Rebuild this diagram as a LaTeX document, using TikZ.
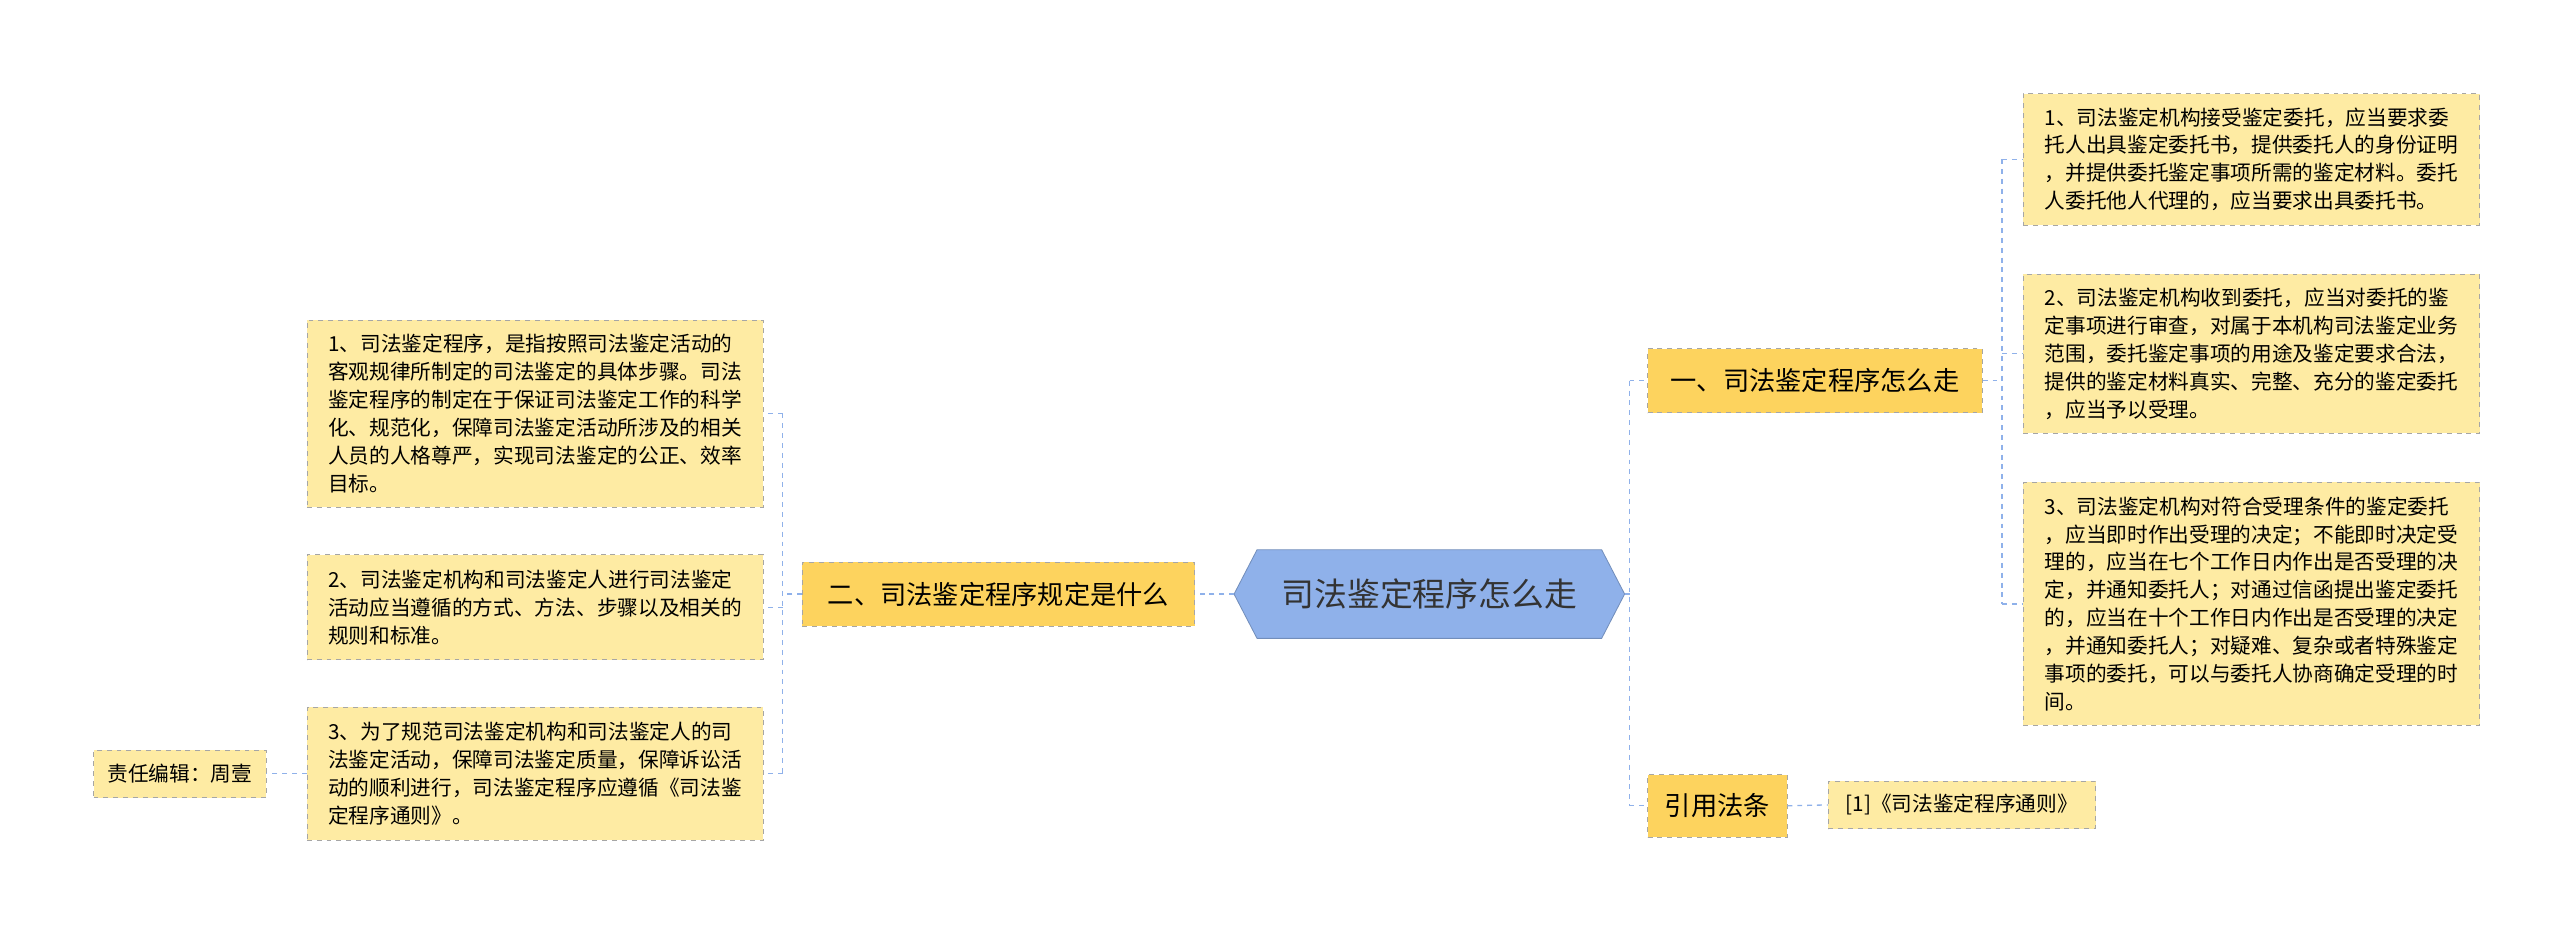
\documentclass[tikz,border=0pt]{standalone}
\usepackage{fontspec}
\setmainfont{Noto Sans CJK SC}
\begin{document}
\begin{tikzpicture}[x=1pt,y=-1pt,
 lvl/.style={draw=black!35,dashed,fill=lv,inner sep=0pt,font=\fontsize{16}{20}\selectfont},
 leaf/.style={draw=black!35,dashed,fill=lf,inner sep=0pt,align=left,font=\fontsize{12.6}{17}\selectfont},
 con/.style={draw=ln,dashed,line width=0.8pt}]
\definecolor{lv}{HTML}{FDD35E}
\definecolor{lf}{HTML}{FEEBA3}
\definecolor{hx}{HTML}{8FB1EA}
\definecolor{ln}{HTML}{8FB1EA}
\useasboundingbox[fill=white] (0,0) rectangle (1560,566);
\fill[hx,draw=hx!80!black,line width=0.5pt] (752,362)--(766,335)--(976,335)--(990,362)--(976,389)--(766,389)--cycle;
\node[font=\fontsize{20}{24}\selectfont,text=black!80] (c) at (871,362) {司法鉴定程序怎么走};
\coordinate (cr) at (990,362); \coordinate (cl) at (752,362);
\node[lvl,minimum width=204,minimum height=39] (n1) at (1106,232) {一、司法鉴定程序怎么走};
\node[lvl,minimum width=85,minimum height=38] (n2) at (1046.5,491) {引用法条};
\node[lvl,minimum width=239,minimum height=39] (n3) at (608.5,362) {二、司法鉴定程序规定是什么};
\node[leaf,minimum width=278,minimum height=80] (r1) at (1372,97) {1、司法鉴定机构接受鉴定委托，应当要求委\\托人出具鉴定委托书，提供委托人的身份证明\\，并提供委托鉴定事项所需的鉴定材料。委托\\人委托他人代理的，应当要求出具委托书。};
\node[leaf,minimum width=278,minimum height=97] (r2) at (1372,215.5) {2、司法鉴定机构收到委托，应当对委托的鉴\\定事项进行审查，对属于本机构司法鉴定业务\\范围，委托鉴定事项的用途及鉴定要求合法，\\提供的鉴定材料真实、完整、充分的鉴定委托\\，应当予以受理。};
\node[leaf,minimum width=278,minimum height=148] (r3) at (1372,368) {3、司法鉴定机构对符合受理条件的鉴定委托\\，应当即时作出受理的决定；不能即时决定受\\理的，应当在七个工作日内作出是否受理的决\\定，并通知委托人；对通过信函提出鉴定委托\\的，应当在十个工作日内作出是否受理的决定\\，并通知委托人；对疑难、复杂或者特殊鉴定\\事项的委托，可以与委托人协商确定受理的时\\间。};
\node[leaf,minimum width=163,minimum height=29] (r4) at (1195.5,490.5) {[1]《司法鉴定程序通则》};
\node[leaf,minimum width=278,minimum height=114] (l1) at (326,252) {1、司法鉴定程序，是指按照司法鉴定活动的\\客观规律所制定的司法鉴定的具体步骤。司法\\鉴定程序的制定在于保证司法鉴定工作的科学\\化、规范化，保障司法鉴定活动所涉及的相关\\人员的人格尊严，实现司法鉴定的公正、效率\\目标。};
\node[leaf,minimum width=278,minimum height=64] (l2) at (326,370) {2、司法鉴定机构和司法鉴定人进行司法鉴定\\活动应当遵循的方式、方法、步骤以及相关的\\规则和标准。};
\node[leaf,minimum width=278,minimum height=81] (l3) at (326,471.5) {3、为了规范司法鉴定机构和司法鉴定人的司\\法鉴定活动，保障司法鉴定质量，保障诉讼活\\动的顺利进行，司法鉴定程序应遵循《司法鉴\\定程序通则》。};
\node[leaf,minimum width=105,minimum height=29] (ed) at (109.5,471.5) {责任编辑：周壹};
% connectors
\draw[con] (cr) -- (993,362);
\draw[con] (993,232) -- (993,491);
\draw[con] (993,232) -- (n1.west);
\draw[con] (993,491) -- (n2.west);
\draw[con] (n1.east) -- (1220,232);
\draw[con] (1220,97) -- (1220,368);
\draw[con] (1220,97) -- (r1.west);
\draw[con] (1220,215.5) -- (r2.west);
\draw[con] (1220,368) -- (r3.west);
\draw[con] (n2.east) -- (r4.west);
\draw[con] (cl) -- (n3.east);
\draw[con] (n3.west) -- (477,362);
\draw[con] (477,252) -- (477,471.5);
\draw[con] (477,252) -- (l1.east);
\draw[con] (477,370) -- (l2.east);
\draw[con] (477,471.5) -- (l3.east);
\draw[con] (l3.west) -- (ed.east);
\end{tikzpicture}
\end{document}
